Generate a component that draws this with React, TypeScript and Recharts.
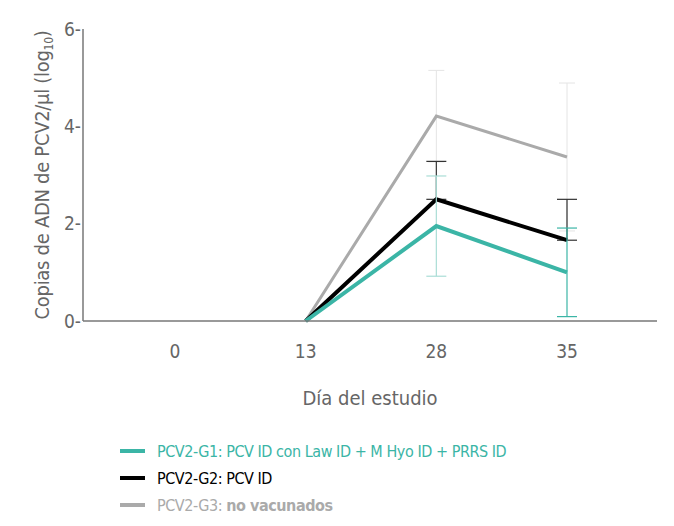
import { LineChart, Line, XAxis, YAxis, ErrorBar } from "recharts";

const days = ["0", "13", "28", "35"];
const g1 = [null, 0, 1.95, 1.0];
const g2 = [null, 0, 2.5, 1.66];
const g3 = [null, 0, 4.21, 3.37];
// error bars (28 lighter for G1)
const g1ErrA = [null, null, 1.03, null];
const g1ErrB = [null, null, null, 0.91];
const g2Err: ([number, number] | null)[] = [null, null, [0, 0.78], [0, 0.84]];
const g3Err = [null, null, 0.94, 1.52];
const yTicks = [0, 2, 4, 6];

const TEAL = "#3bb5a6";
const BLACK = "#000000";
const GREY = "#aaaaaa";
const AXIS = "#777777";
const TEXT = "#666666";
const FONT = '"Liberation Sans Narrow", "DejaVu Sans Condensed", "Roboto", sans-serif';

const data = days.map((d, i) => ({
  day: d,
  g1: g1[i],
  g2: g2[i],
  g3: g3[i],
  g1ErrA: g1ErrA[i],
  g1ErrB: g1ErrB[i],
  g2Err: g2Err[i],
  g3Err: g3Err[i],
}));

const YLabel = () => (
  <text
    x={42}
    y={175}
    transform="rotate(-90 42 175)"
    textAnchor="middle"
    dominantBaseline="central"
    fill={TEXT}
    fontSize={20}
    letterSpacing={-0.3}
    fontFamily={FONT}
  >
    Copias de ADN de PCV2/µl (log
    <tspan baselineShift="sub" fontSize={12}>10</tspan>
    <tspan>)</tspan>
  </text>
);

const legend = [
  { color: TEAL, label: "PCV2-G1: PCV ID con Law ID + M Hyo ID + PRRS ID", bold: "" },
  { color: BLACK, label: "PCV2-G2: PCV ID", bold: "" },
  { color: GREY, label: "PCV2-G3: ", bold: "no vacunados" },
];

export default function App() {
  return (
    <div style={{ position: "relative", width: 674, height: 526, margin: -8, fontFamily: FONT, background: "#fff" }}>
      <LineChart width={674} height={410} data={data} margin={{ top: 29, right: 17, left: 0, bottom: 0 }}>
        <XAxis
          dataKey="day"
          type="category"
          padding={{ left: 92, right: 90 }}
          stroke={AXIS}
          strokeWidth={1.5}
          tickLine={false}
          tickSize={0}
          tickMargin={24}
          tick={{ fill: TEXT, fontSize: 19, fontFamily: FONT }}
          height={89}
          label={{
            value: "Día del estudio",
            position: "insideBottom",
            offset: 5,
            fill: TEXT,
            fontSize: 20,
            fontFamily: FONT,
          }}
        />
        <YAxis
          domain={[0, 6]}
          ticks={yTicks}
          width={83}
          stroke={AXIS}
          strokeWidth={1.5}
          tickLine={false}
          tickSize={0}
          tickMargin={2}
          tickFormatter={(v) => `${v}-`}
          tick={{ fill: TEXT, fontSize: 19, fontFamily: FONT }}
          label={<YLabel />}
        />
        <Line dataKey="g3" stroke={GREY} strokeWidth={3} dot={false} isAnimationActive={false}>
          <ErrorBar dataKey="g3Err" stroke="#e4e4e4" strokeWidth={1} width={8} />
        </Line>
        <Line dataKey="g2" stroke={BLACK} strokeWidth={4} dot={false} isAnimationActive={false}>
          <ErrorBar dataKey="g2Err" stroke="#333" strokeWidth={1.2} width={10} />
        </Line>
        <Line dataKey="g1" stroke={TEAL} strokeWidth={4} dot={false} isAnimationActive={false}>
          <ErrorBar dataKey="g1ErrA" stroke="#a9ddd6" strokeWidth={1.2} width={10} />
          <ErrorBar dataKey="g1ErrB" stroke={TEAL} strokeWidth={1.2} width={10} />
        </Line>
      </LineChart>
      {legend.map((l, i) => (
        <div
          key={l.label}
          style={{
            position: "absolute",
            left: 120,
            top: 439 + i * 27,
            height: 24,
            display: "flex",
            alignItems: "center",
            fontSize: 16,
            letterSpacing: -0.45,
            color: l.color,
          }}
        >
          <span style={{ display: "inline-block", width: 25, height: 4, background: l.color, marginRight: 12 }} />
          <span>
            {l.label}
            {l.bold && <b>{l.bold}</b>}
          </span>
        </div>
      ))}
    </div>
  );
}
